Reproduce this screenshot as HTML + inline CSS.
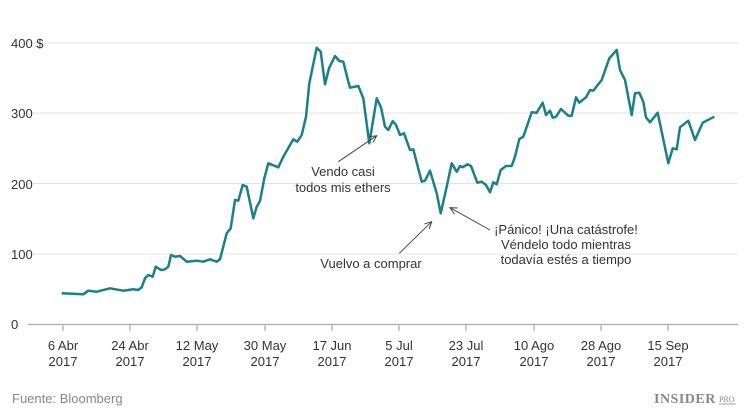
<!DOCTYPE html>
<html><head><meta charset="utf-8"><style>
html,body{margin:0;padding:0;background:#fff;}
svg{display:block;font-family:"Liberation Sans",sans-serif;}
</style></head><body>
<svg width="750" height="418" viewBox="0 0 750 418">
<defs><marker id="ah" markerWidth="8" markerHeight="8" refX="7" refY="4" orient="auto" markerUnits="userSpaceOnUse"><path d="M0,0.5 L7,4 L0,7.5" fill="none" stroke="#444" stroke-width="1"/></marker></defs>
<g stroke="#e3e3e3" stroke-width="1">
<line x1="28" y1="43" x2="738" y2="43"/><line x1="28" y1="113" x2="738" y2="113"/><line x1="28" y1="183.5" x2="738" y2="183.5"/><line x1="28" y1="254" x2="738" y2="254"/>
</g>
<line x1="28" y1="324.5" x2="738" y2="324.5" stroke="#aaa" stroke-width="1.2"/>
<g stroke="#aaa" stroke-width="1.2">
<line x1="63" y1="324" x2="63" y2="331"/><line x1="130" y1="324" x2="130" y2="331"/><line x1="197" y1="324" x2="197" y2="331"/><line x1="265" y1="324" x2="265" y2="331"/><line x1="332" y1="324" x2="332" y2="331"/><line x1="399" y1="324" x2="399" y2="331"/><line x1="466" y1="324" x2="466" y2="331"/><line x1="534" y1="324" x2="534" y2="331"/><line x1="601" y1="324" x2="601" y2="331"/><line x1="668" y1="324" x2="668" y2="331"/>
</g>
<g fill="#333" font-size="13">
<text x="11" y="48">400 $</text><text x="11" y="118">300</text><text x="11" y="189">200</text><text x="11" y="259">100</text><text x="11" y="329">0</text>
</g>
<g fill="#333" font-size="13" text-anchor="middle">
<text x="63" y="350">6 Abr</text><text x="63" y="366">2017</text>
<text x="130" y="350">24 Abr</text><text x="130" y="366">2017</text>
<text x="197" y="350">12 May</text><text x="197" y="366">2017</text>
<text x="265" y="350">30 May</text><text x="265" y="366">2017</text>
<text x="332" y="350">17 Jun</text><text x="332" y="366">2017</text>
<text x="399" y="350">5 Jul</text><text x="399" y="366">2017</text>
<text x="466" y="350">23 Jul</text><text x="466" y="366">2017</text>
<text x="534" y="350">10 Ago</text><text x="534" y="366">2017</text>
<text x="601" y="350">28 Ago</text><text x="601" y="366">2017</text>
<text x="668" y="350">15 Sep</text><text x="668" y="366">2017</text>
</g>
<polyline fill="none" stroke="#1b8088" stroke-width="2.5" stroke-linejoin="round" points="61.7,293.3 83.3,294.3 88.3,290.7 96.7,291.7 110,288.3 123.3,290.7 133.3,289.3 138.3,290 141.7,287.3 145,278.3 148.3,275 152.7,276.7 155.7,266.7 161,270 165,269.3 168.3,266.7 171,255 175,256.7 180,256 186.7,261.7 196.7,260.7 203.3,261.7 210,259.3 216.7,261.7 220,259.3 226.7,233.3 230.7,228.3 235,200 238.3,200.7 242.7,185 246.7,186.7 253.3,218.3 256.7,206.7 260,201 264.3,178.3 268.3,163.3 278.3,167.3 283.3,156.7 293.3,139.3 297.3,141.7 301.7,135 306,116.7 309.3,83.3 316.7,47.7 320.7,51.7 325,84.3 329,68.3 335,56 339.3,61 343.3,61.7 348.3,81.7 350,87.7 358.3,86 363.3,98.3 369.3,143.3 376.7,98.3 381,107.3 385,126.7 388.3,130 392.7,121 396,125 400,135 404,133.3 410,150 413.3,149.3 421.7,181.7 425,180.7 430,170.7 436.7,193.3 440.7,213.3 446.7,186.7 451.7,163.3 456.7,171.7 460,166 462.7,167.3 467.3,164.3 471,166 477.3,182.7 481.7,181.7 486,185 490,192.3 493.3,182.3 496.7,184.3 500.7,170 506,166 511.7,166 515,156.7 519.3,139 523.3,136.7 531.7,112.3 536.7,112.7 542.7,102.7 546,115 550,110.7 552.7,117.7 556,116.7 561,109 568.3,115.7 571.7,115.7 576,97.3 579.3,102.7 586,97.3 590,90 593.3,90.7 601.7,80 609.3,58.3 616.7,50 620,70 625,80 631.7,115 635,93.3 639.3,92.7 643.3,101.7 646,117.3 650,122.3 657.7,112.7 668.3,163.3 672.7,148.3 676.7,149.3 680,127.3 688.3,120.7 695,140 702.7,122.7 714.3,116.7"/>
<g stroke="#444" stroke-width="1" marker-end="url(#ah)">
<line x1="338.3" y1="161.7" x2="376.7" y2="135.7"/>
<line x1="399.3" y1="253.3" x2="431.7" y2="221.7"/>
<line x1="490" y1="230" x2="450" y2="207.7"/>
</g>
<g fill="#333" font-size="13" text-anchor="middle">
<text x="343" y="176">Vendo casi</text><text x="343" y="192">todos mis ethers</text>
<text x="371" y="268">Vuelvo a comprar</text>
<text x="566" y="234">¡Pánico! ¡Una catástrofe!</text>
<text x="566" y="249">Véndelo todo mientras</text>
<text x="566" y="264">todavía estés a tiempo</text>
</g>
<text x="12" y="403" fill="#888" font-size="13">Fuente: Bloomberg</text>
<text x="654" y="403" fill="#888" font-size="14" font-weight="bold" font-family="Liberation Serif,serif" letter-spacing="0.5">INSIDER</text>
<text x="719" y="402" fill="#888" font-size="8" font-family="Liberation Serif,serif">PRO</text>
<line x1="719" y1="404" x2="736" y2="404" stroke="#888" stroke-width="0.8"/>
</svg>
</body></html>
